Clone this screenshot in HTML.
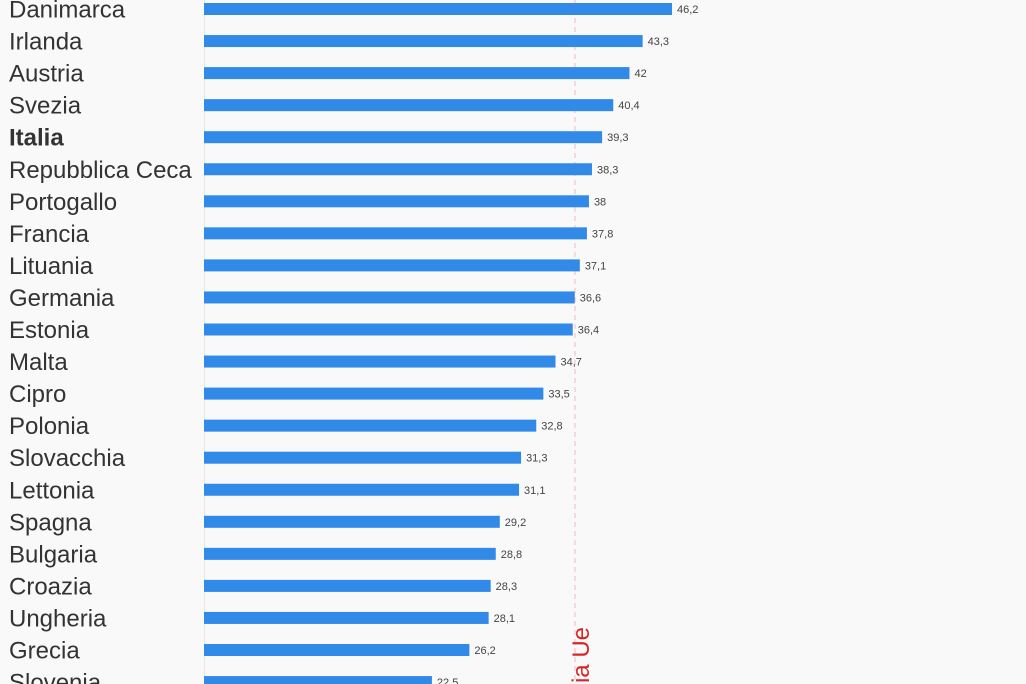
<!DOCTYPE html>
<html><head><meta charset="utf-8"><style>
html,body{margin:0;padding:0;background:#f9f9f9;overflow:hidden;}
svg{display:block;}
</style></head><body>
<svg width="1026" height="684" xmlns="http://www.w3.org/2000/svg" font-family="Liberation Sans, sans-serif">
<rect width="1026" height="684" fill="#f9f9f9"/>
<line x1="204.5" y1="0" x2="204.5" y2="684" stroke="#e6e6e6" stroke-width="1"/>
<line x1="575" y1="0" x2="575" y2="684" stroke="#f4b6c2" stroke-width="1" stroke-dasharray="5,4"/>
<g id="rows"></g>
<text transform="translate(589,627) rotate(-90)" text-anchor="end" font-size="24" fill="#d62728">Media Ue</text>
</svg>
<script>
var d=[["Danimarca",46.2],["Irlanda",43.3],["Austria",42],["Svezia",40.4],["Italia",39.3],["Repubblica Ceca",38.3],["Portogallo",38],["Francia",37.8],["Lituania",37.1],["Germania",36.6],["Estonia",36.4],["Malta",34.7],["Cipro",33.5],["Polonia",32.8],["Slovacchia",31.3],["Lettonia",31.1],["Spagna",29.2],["Bulgaria",28.8],["Croazia",28.3],["Ungheria",28.1],["Grecia",26.2],["Slovenia",22.5]];
var g=document.getElementById('rows'),s='';
d.forEach(function(r,i){var c=9+32.05*i,w=r[1]*10.13;
s+='<text x="9" y="'+(c+8.5)+'" font-size="24" fill="#333"'+(r[0]=="Italia"?' font-weight="bold"':'')+'>'+r[0]+'</text>';
s+='<rect x="204" y="'+(c-6)+'" width="'+w+'" height="12" fill="#318ae8"/>';
s+='<text x="'+(204+w+5)+'" y="'+(c+4)+'" font-size="11" fill="#444">'+String(r[1]).replace('.',',')+'</text>';});
g.innerHTML=s;
</script>
</body></html>
